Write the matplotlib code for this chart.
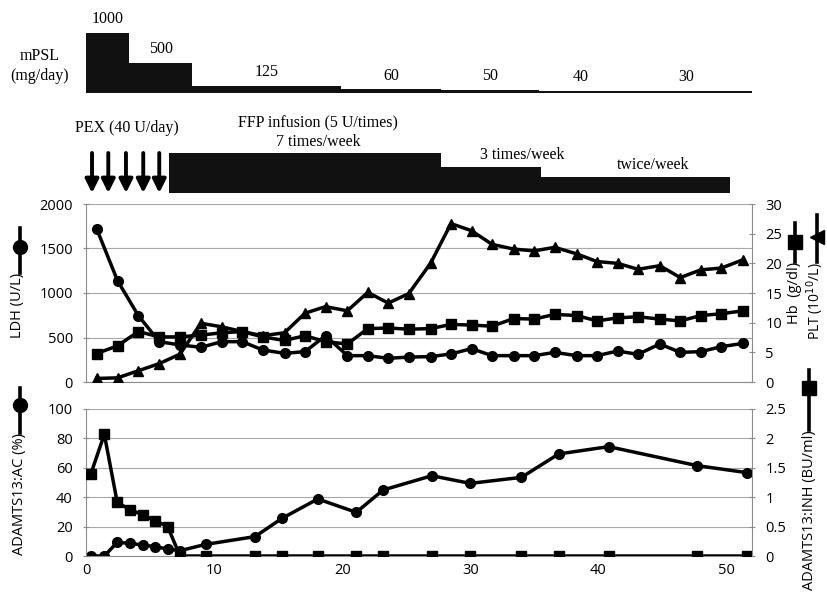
import matplotlib
matplotlib.use('Agg')
import matplotlib.pyplot as plt
from matplotlib.lines import Line2D

plt.rcParams['font.family'] = ['Open Sans', 'DejaVu Sans']

# mPSL steps (day from / to, mg/day)
psl_start = [0, 3.36, 8.3, 19.9, 27.7, 35.4, 41.8]
psl_end = [3.36, 8.3, 19.9, 27.7, 35.4, 41.8, 52]
psl_dose = [1000, 500, 125, 60, 50, 40, 30]

# PEX days and FFP schedule
pex_days = [0.47, 1.74, 3.12, 4.47, 5.72]
ffp_start = [6.5, 27.7, 35.5]
ffp_end = [27.7, 35.5, 50.3]
ffp_labels = ['7 times/week', '3 times/week', 'twice/week']

# upper panel: LDH, Hb, PLT
days_up = [0.84, 2.46, 4.09, 5.72, 7.34, 8.97, 10.6, 12.2, 13.8, 15.5, 17.1,
           18.7, 20.4, 22.0, 23.6, 25.2, 26.9, 28.5, 30.1, 31.7, 33.4, 35.0,
           36.6, 38.3, 39.9, 41.5, 43.1, 44.8, 46.4, 48.0, 49.6, 51.3]
ldh = [1719, 1139, 745, 453, 416, 390, 453, 453, 360, 322, 341, 520, 296, 296,
       266, 280, 285, 315, 375, 296, 296, 296, 333, 296, 296, 348, 311, 427,
       333, 341, 397, 434]
hb = [4.8, 6.1, 8.5, 7.6, 7.6, 7.9, 8.3, 8.5, 7.6, 7.0, 7.8, 6.8, 6.4, 9.0,
      9.1, 8.9, 9.0, 9.7, 9.6, 9.4, 10.7, 10.6, 11.4, 11.2, 10.3, 10.8, 11.0,
      10.6, 10.3, 11.2, 11.5, 12.0]
plt_cnt = [0.6, 0.7, 1.9, 3.1, 4.7, 9.9, 9.3, 8.5, 7.8, 8.3, 11.6, 12.7, 12.0,
           15.1, 13.3, 14.9, 20.0, 26.7, 25.5, 23.2, 22.4, 22.1, 22.7, 21.6,
           20.3, 20.0, 19.0, 19.6, 17.6, 18.9, 19.2, 20.6]

# lower panel: ADAMTS13 activity and inhibitor
days_low = [0.37, 1.43, 2.44, 3.43, 4.42, 5.41, 6.38, 7.34, 9.34, 13.2, 15.3,
            18.1, 21.1, 23.2, 27.0, 30.0, 34.0, 36.9, 40.8, 47.7, 51.6]
adamts_ac = [0, 0, 9.3, 8.6, 7.5, 6.3, 4.8, 3.6, 7.9, 13.2, 25.6, 38.8, 29.7,
             44.9, 54.6, 49.4, 53.5, 69.4, 74.4, 61.5, 56.7]
adamts_inh = [1.39, 2.07, 0.91, 0.79, 0.70, 0.60, 0.50, 0, 0, 0, 0, 0, 0, 0,
              0, 0, 0, 0, 0, 0, 0]

W, H = 827, 593
fig = plt.figure(figsize=(W / 100, H / 100), dpi=100)

def fx(px):
    return px / W

def fy(py):
    return 1 - py / H

x0, x1 = 86, 752
XMAX = 52
serif = 'Liberation Serif'
grid_c = '#a8a8a8'
spine_c = '#8c8c8c'

# mPSL schematic
axp = fig.add_axes([fx(x0), fy(93), fx(x1 - x0), (93 - 33) / H])
axp.bar(psl_start, psl_dose, width=[e - s for s, e in zip(psl_start, psl_end)],
        align='edge', color='#111111', linewidth=0)
for s, e, d in zip(psl_start, psl_end, psl_dose):
    axp.annotate(str(d), xy=((s + e) / 2, d), xytext=(0, 10), textcoords='offset points',
                 ha='center', va='center', family=serif, fontsize=11.5)
axp.set_xlim(0, XMAX)
axp.set_ylim(0, 1000)
axp.axis('off')
fig.text(fx(40), fy(66), 'mPSL\n(mg/day)', ha='center', va='center',
         family=serif, fontsize=11.5, linespacing=1.4)

# PEX arrows and FFP schedule
axf = fig.add_axes([fx(x0), fy(193), fx(x1 - x0), 40 / H])
ffp_h = [40, 26, 16]
axf.bar(ffp_start, ffp_h, width=[e - s for s, e in zip(ffp_start, ffp_end)],
        align='edge', color='#111111', linewidth=0)
for d in pex_days:
    axf.annotate('', xy=(d, 0), xytext=(d, 40),
                 arrowprops=dict(arrowstyle='-|>', lw=2.8, color='k',
                                 mutation_scale=20, shrinkA=0, shrinkB=0))
axf.text(3.2, 65, 'PEX (40 U/day)', ha='center', va='center', family=serif, fontsize=11.5)
axf.text(18.1, 70, 'FFP infusion (5 U/times)', ha='center', va='center', family=serif, fontsize=11.5)
axf.text(18.1, 51, ffp_labels[0], ha='center', va='center', family=serif, fontsize=11.5)
axf.text(34.1, 38, ffp_labels[1], ha='center', va='center', family=serif, fontsize=11.5)
axf.text(44.3, 28, ffp_labels[2], ha='center', va='center', family=serif, fontsize=11.5)
axf.set_xlim(0, XMAX)
axf.set_ylim(0, 40)
axf.axis('off')

def style(ax, axr):
    for sp in ['top', 'right']:
        ax.spines[sp].set_visible(False)
    ax.spines['left'].set_color(spine_c)
    ax.spines['bottom'].set_color(spine_c)
    for sp in ['top', 'left', 'bottom']:
        axr.spines[sp].set_visible(False)
    axr.spines['right'].set_color(spine_c)
    ax.yaxis.grid(True, color=grid_c, lw=0.8)
    ax.set_axisbelow(True)
    ax.tick_params(axis='y', direction='inout', length=5, color=spine_c, labelsize=10.5, pad=7)
    axr.tick_params(axis='y', direction='inout', length=5, color=spine_c, labelsize=10.5, pad=7)
    ax.set_xlim(0, XMAX)

lk = dict(color='k', lw=2.5, markersize=7)

# upper panel
ax1 = fig.add_axes([fx(x0), fy(382), fx(x1 - x0), (382 - 204) / H])
ax1r = ax1.twinx()
ax1.plot(days_up, ldh, marker='o', **lk)
ax1r.plot(days_up, hb, marker='s', **lk)
ax1r.plot(days_up, plt_cnt, marker='^', **lk)
ax1.set_ylim(0, 2000)
ax1.set_yticks([0, 500, 1000, 1500, 2000])
ax1r.set_ylim(0, 30)
ax1r.set_yticks([0, 5, 10, 15, 20, 25, 30])
style(ax1, ax1r)
ax1.tick_params(axis='x', bottom=False, labelbottom=False)

# lower panel
ax2 = fig.add_axes([fx(x0), fy(556), fx(x1 - x0), (556 - 409) / H])
ax2r = ax2.twinx()
ax2.plot(days_low, adamts_ac, marker='o', **lk)
ax2r.plot(days_low, adamts_inh, marker='s', **lk)
ax2.set_ylim(0, 100)
ax2.set_yticks([0, 20, 40, 60, 80, 100])
ax2r.set_ylim(0, 2.5)
ax2r.set_yticks([0, 0.5, 1, 1.5, 2, 2.5])
ax2r.set_yticklabels(['0', '0.5', '1', '1.5', '2', '2.5'])
style(ax2, ax2r)
ax2.set_xticks([0, 10, 20, 30, 40, 50])
ax2.tick_params(axis='x', length=0, labelsize=10.5, pad=5)

# axis titles with series symbols
def key(px, top, bottom, mid, marker):
    fig.add_artist(Line2D([fx(px)] * 3, [fy(top), fy(mid), fy(bottom)],
                          transform=fig.transFigure, color='k', lw=2.6,
                          marker=marker, markevery=[1], markersize=10))

def title(px, top, s, size):
    fig.text(fx(px), fy(top), s, rotation=90, ha='center', va='top', fontsize=size)

key(20, 228, 273, 247, 'o')
title(17, 273, 'LDH (U/L)', 10.5)
key(795, 223, 262, 242, 's')
title(795, 262, 'Hb  (g/dl)', 10.5)
key(817, 215, 262, 237, '<')
title(815, 262, 'PLT (10$^{10}$/L)', 10)
key(20, 388, 433, 405, 'o')
title(20, 433, 'ADAMTS13:AC (%)', 10.5)
key(809, 370, 430, 388, 's')
title(809, 430, 'ADAMTS13:INH (BU/ml)', 10.5)

fig.savefig('out.png', dpi=100)
